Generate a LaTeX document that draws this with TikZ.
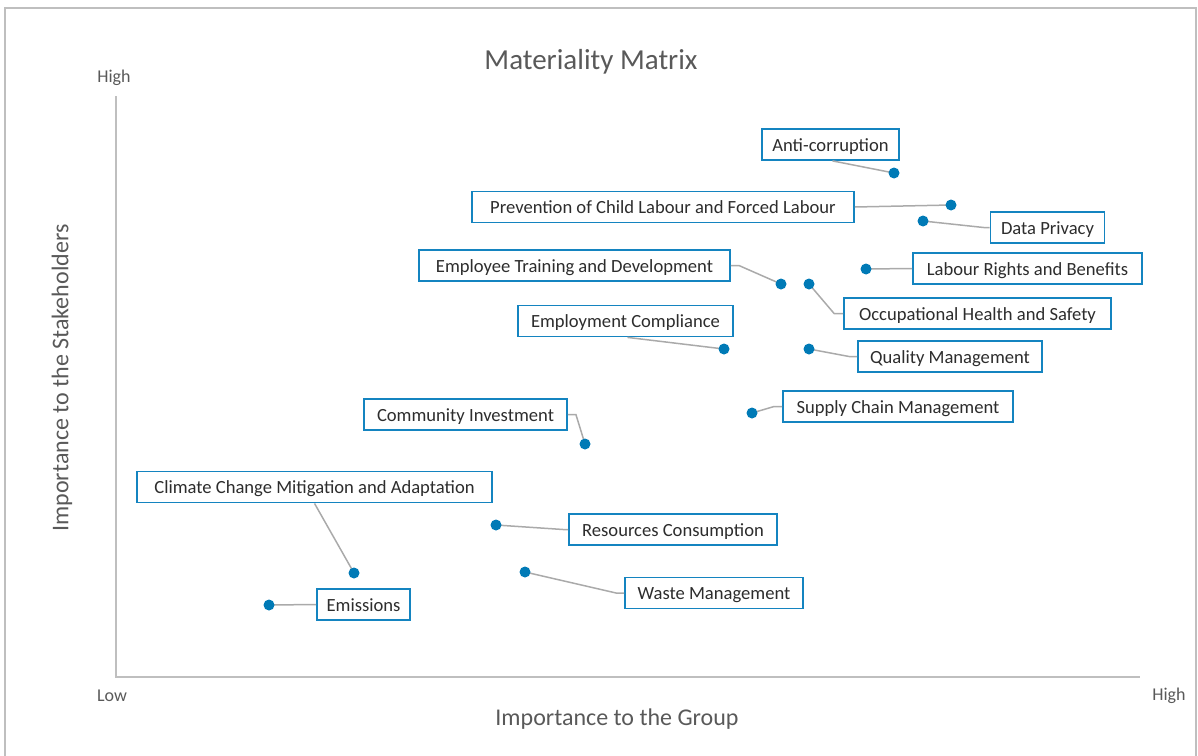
\documentclass[tikz,border=0pt]{standalone}
\usepackage{fontspec}
\setmainfont{Carlito}
\definecolor{boxblue}{RGB}{20,132,192}
\definecolor{dotblue}{RGB}{0,122,182}
\definecolor{txt}{RGB}{45,45,45}
\definecolor{leadgray}{RGB}{170,170,170}
\definecolor{axisgray}{RGB}{191,191,191}
\definecolor{titlegray}{RGB}{89,89,89}
\tikzset{
  lbl/.style={draw=boxblue, line width=1.8pt, fill=white, text=txt, minimum height=31pt, inner sep=0pt, text height=15pt, text depth=2pt, font=\fontsize{18.6}{22}\selectfont},
  dotmark/.style={circle, fill=dotblue, minimum size=11pt, inner sep=0pt},
  leader/.style={draw=leadgray, line width=1.5pt},
  axisline/.style={draw=axisgray, line width=2pt},
  axtext/.style={text=titlegray, font=\fontsize{18}{21}\selectfont},
}
\begin{document}
\begin{tikzpicture}[x=1pt,y=-1pt]
\useasboundingbox (0,0) rectangle (1198,755);
% outer frame
\draw[draw=axisgray, line width=1.5pt] (5,760) -- (5,8) -- (1196,8) -- (1196,760);
% title and axes
\node[text=titlegray, font=\fontsize{29}{34}\selectfont] (title) at (591,62) {Materiality Matrix};
\coordinate (origin) at (116,677);
\coordinate (ytop) at (116,96);
\coordinate (xend) at (1140,677);
\draw[axisline] (ytop) -- (origin) -- (xend);
\node[axtext] (yhigh) at (114,78) {High};
\node[axtext] (xlow) at (112,696) {Low};
\node[axtext] (xhigh) at (1169,696) {High};
\node[text=titlegray, font=\fontsize{24}{28}\selectfont] (xtitle) at (617,719) {Importance to the Group};
\node[text=titlegray, font=\fontsize{24}{28}\selectfont, rotate=90] (ytitle) at (62,378) {Importance to the Stakeholders};
% point positions
\coordinate (p1) at (894,173);
\coordinate (p2) at (951,205);
\coordinate (p3) at (923,221);
\coordinate (p4) at (866,269);
\coordinate (p5) at (781,284);
\coordinate (p6) at (809,284);
\coordinate (p7) at (724,349);
\coordinate (p8) at (809,349);
\coordinate (p9) at (752,413);
\coordinate (p10) at (585,444);
\coordinate (p11) at (354,573);
\coordinate (p12) at (496,525);
\coordinate (p13) at (525,572);
\coordinate (p14) at (269,605);
% label boxes
\node[lbl, minimum width=137pt] (anti) at (830.5,144.5) {Anti-corruption};
\node[lbl, minimum width=382pt] (child) at (663,207) {Prevention of Child Labour and Forced Labour};
\node[lbl, minimum width=114pt] (privacy) at (1047.5,227.5) {Data Privacy};
\node[lbl, minimum width=229pt] (labour) at (1027.5,268.5) {Labour Rights and Benefits};
\node[lbl, minimum width=311pt] (training) at (574.5,265.5) {Employee Training and Development};
\node[lbl, minimum width=267pt] (ohs) at (977.5,313.5) {Occupational Health and Safety};
\node[lbl, minimum width=215pt] (compliance) at (625.5,321) {Employment Compliance};
\node[lbl, minimum width=184pt] (quality) at (950,356.5) {Quality Management};
\node[lbl, minimum width=230pt] (supply) at (898,406.5) {Supply Chain Management};
\node[lbl, minimum width=203pt] (community) at (465.5,414.5) {Community Investment};
\node[lbl, minimum width=355pt] (climate) at (314.5,487) {Climate Change Mitigation and Adaptation};
\node[lbl, minimum width=208pt] (resources) at (673,529.5) {Resources Consumption};
\node[lbl, minimum width=178pt] (waste) at (714,593) {Waste Management};
\node[lbl, minimum width=93pt] (emissions) at (363.5,604.5) {Emissions};
% leader lines
\draw[leader] ([xshift=2pt]anti.south) -- (p1);
\draw[leader] (child.east) -- (p2);
\draw[leader] (privacy.west) -- ++(-6,0) -- (p3);
\draw[leader] (labour.west) -- (p4);
\draw[leader] (training.east) -- ++(8,0) -- (p5);
\draw[leader] (ohs.west) -- ++(-9,0) -- (p6);
\draw[leader] ([xshift=2pt]compliance.south) -- (p7);
\draw[leader] (quality.west) -- ++(-8,0) -- (p8);
\draw[leader] (supply.west) -- ++(-8,0) -- (p9);
\draw[leader] (community.east) -- ++(8,0) -- (p10);
\draw[leader] (climate.south) -- (p11);
\draw[leader] (resources.west) -- ++(-5,0) -- (p12);
\draw[leader] (waste.west) -- ++(-8,0) -- (p13);
\draw[leader] (emissions.west) -- (p14);
% data points
\foreach \i in {1,...,14} { \node[dotmark] (dot\i) at (p\i) {}; }
\end{tikzpicture}
\end{document}
